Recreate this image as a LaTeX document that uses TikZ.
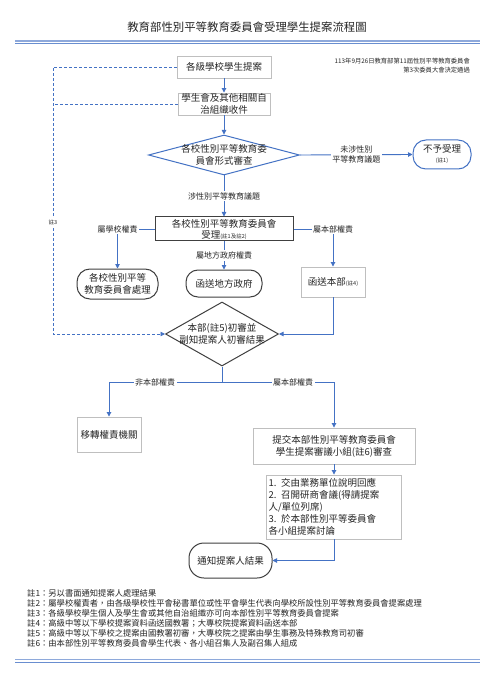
\documentclass[tikz,border=0pt]{standalone}
\usepackage{fontspec}
\setmainfont{Noto Sans CJK TC}
\usetikzlibrary{shapes.geometric,arrows.meta}
\definecolor{lnblue}{HTML}{4472C4}
\definecolor{lnlight}{HTML}{8EA9DB}
\definecolor{bxgray}{HTML}{BFBFBF}
\definecolor{dkgray}{HTML}{404040}
\definecolor{txt}{HTML}{262626}
\newcommand{\bxfont}{\fontsize{9.5}{12}\selectfont}
\newcommand{\lbfont}{\fontsize{8}{10}\selectfont}
\newcommand{\fnfont}{\fontsize{8.3}{10}\selectfont}
\newcommand{\smfont}{\fontsize{5.5}{7}\selectfont}
\tikzset{
  flow/.style={draw=lnblue, line width=0.9pt, -{Triangle[length=4.5pt,width=4.5pt]}},
  conn/.style={draw=lnblue, line width=0.9pt},
  dashflow/.style={draw=lnblue, line width=0.8pt, dash pattern=on 3pt off 2pt},
  lbl/.style={fill=white, font=\lbfont, text=txt, inner sep=1.5pt, align=center},
  gbox/.style={draw=bxgray, line width=0.9pt, rectangle, inner sep=0pt, align=center, font=\bxfont, text=txt},
  dbox/.style={draw=dkgray, line width=1pt, rectangle, inner sep=0pt, align=center, font=\bxfont, text=txt},
  rbox/.style={draw=dkgray, line width=1pt, rectangle, rounded corners=12pt, inner sep=0pt, align=center, font=\bxfont, text=txt},
  dmd/.style={diamond, line width=1pt, inner sep=0pt},
  fnote/.style={anchor=west, font=\fnfont, text=txt, inner sep=0pt},
}
\begin{document}
\begin{tikzpicture}[x=1pt,y=-1pt]
\useasboundingbox (0,0) rectangle (495,700);
\fill[white] (0,0) rectangle (495,700);

% title and rules
\node[font=\fontsize{11.4}{13}\selectfont, text=txt] (title) at (247,27) {教育部性別平等教育委員會受理學生提案流程圖};
\draw[lnlight, line width=1.4pt] (15,41) -- (480,41);
\draw[lnblue!80, line width=0.6pt] (15,43.6) -- (480,43.6);
\draw[lnlight, line width=1.4pt] (15,659.5) -- (480,659.5);
\draw[lnblue!80, line width=0.6pt] (15,662) -- (480,662);

\node[anchor=north east, align=right, font=\fontsize{6.3}{8.6}\selectfont, text=txt, inner sep=0pt] (note) at (470,58)
  {113年9月26日教育部第11屆性別平等教育委員會\\第3次委員大會決定通過};

% nodes
\node[gbox, minimum width=94pt, minimum height=22pt] (n1) at (224,67) {各級學校學生提案};
\node[gbox, minimum width=92pt, minimum height=22pt] (n2) at (224,104) {學生會及其他相關自\\治組織收件};
\node[dmd, draw=lnblue, minimum width=151pt, minimum height=40pt,
  label={[align=center, font=\bxfont, text=txt]center:{各校性別平等教育委\\員會形式審查}}] (d1) at (224,155) {};
\node[rbox, draw=lnblue, minimum width=58pt, minimum height=29pt, rounded corners=13pt] (r1) at (442,154.5)
  {不予受理\\[-2pt]{\smfont (註1)}};
\node[dbox, minimum width=138pt, minimum height=24pt] (n3) at (224,229)
  {各校性別平等教育委員會\\[-1pt]受理{\smfont (註1及註2)}};
\node[rbox, minimum width=81pt, minimum height=30pt, rounded corners=13pt] (r2) at (117.5,284) {各校性別平等\\教育委員會處理};
\node[rbox, minimum width=76pt, minimum height=27pt, rounded corners=12pt] (r3) at (224,283.5) {函送地方政府};
\node[gbox, minimum width=64pt, minimum height=30pt] (n4) at (333,282) {函送本部{\smfont (註4)}};
\node[dmd, draw=dkgray, minimum width=113pt, minimum height=64pt,
  label={[align=center, font=\bxfont, text=txt]center:{本部(註5)初審並\\副知提案人初審結果}}] (d2) at (222,334) {};
\node[gbox, minimum width=64pt, minimum height=35pt] (n5) at (109,434.5) {移轉權責機關};
\node[gbox, minimum width=162pt, minimum height=36pt] (n6) at (334,446) {提交本部性別平等教育委員會\\學生提案審議小組(註6)審查};
\node[gbox, minimum width=135pt, minimum height=64pt, text width=131pt, align=left, inner sep=2pt] (n7) at (334,507)
  {1. 交由業務單位說明回應\\2. 召開研商會議(得請提案\\人/單位列席)\\3. 於本部性別平等委員會\\各小組提案討論};
\node[rbox, minimum width=83pt, minimum height=35pt, rounded corners=15pt] (r4) at (230.5,560.5) {通知提案人結果};

% coordinates
\coordinate (dk1) at (53,67);
\coordinate (dk2) at (53,104);
\coordinate (dk3) at (53,334);
\coordinate (cl) at (117.5,229);
\coordinate (cr) at (333,229);
\coordinate (j) at (222,382);
\coordinate (jl) at (109,382);
\coordinate (jr) at (334,382);

% connectors
\draw[flow] (n1) -- (n2);
\draw[flow] (n2) -- (d1);
\draw[flow] (d1.east) -- (r1.west) node[lbl, midway] {未涉性別\\平等教育議題};
\draw[flow] (d1.south) -- (n3.north) node[lbl, midway] {涉性別平等教育議題};
\draw[flow] (n3.west) -- (cl) -- (r2.north);
\draw[flow] (n3.east) -- (cr) -- (n4.north);
\draw[flow] (n3.south) -- (r3.north) node[lbl, midway] {屬地方政府權責};
\draw[flow] (n4.south) |- (d2.east);
\draw[dashflow, -{Triangle[length=4.5pt,width=4.5pt]}] (n1.west) -- (dk1) -- (dk3) -- (d2.west);
\draw[dashflow] (n2.west) -- (dk2);
\draw[conn] (d2.south) -- (j);
\draw[flow] (j) -- (jl) -- (n5.north);
\draw[flow] (j) -- (jr) -- (n6.north);
\draw[flow] (n6.south) -- (n7.north);
\draw[flow] (n7.south) |- (r4.east);

% labels on corners
\node[lbl] (lcl) at (cl) {屬學校權責};
\node[lbl] (lcr) at (cr) {屬本部權責};
\node[lbl, font=\smfont] (l3) at (53,222) {註3};
\node[lbl] (ljl) at (155,382) {非本部權責};
\node[lbl] (ljr) at (293,382) {屬本部權責};

% footnotes
\node[fnote] (f1) at (27,593) {註1：另以書面通知提案人處理結果};
\node[fnote] (f2) at (27,603) {註2：屬學校權責者，由各級學校性平會秘書單位或性平會學生代表向學校所設性別平等教育委員會提案處理};
\node[fnote] (f3) at (27,613) {註3：各級學校學生個人及學生會或其他自治組織亦可向本部性別平等教育委員會提案};
\node[fnote] (f4) at (27,623) {註4：高級中等以下學校提案資料函送國教署；大專校院提案資料函送本部};
\node[fnote] (f5) at (27,633) {註5：高級中等以下學校之提案由國教署初審，大專校院之提案由學生事務及特殊教育司初審};
\node[fnote] (f6) at (27,643) {註6：由本部性別平等教育委員會學生代表、各小組召集人及副召集人組成};
\end{tikzpicture}
\end{document}
